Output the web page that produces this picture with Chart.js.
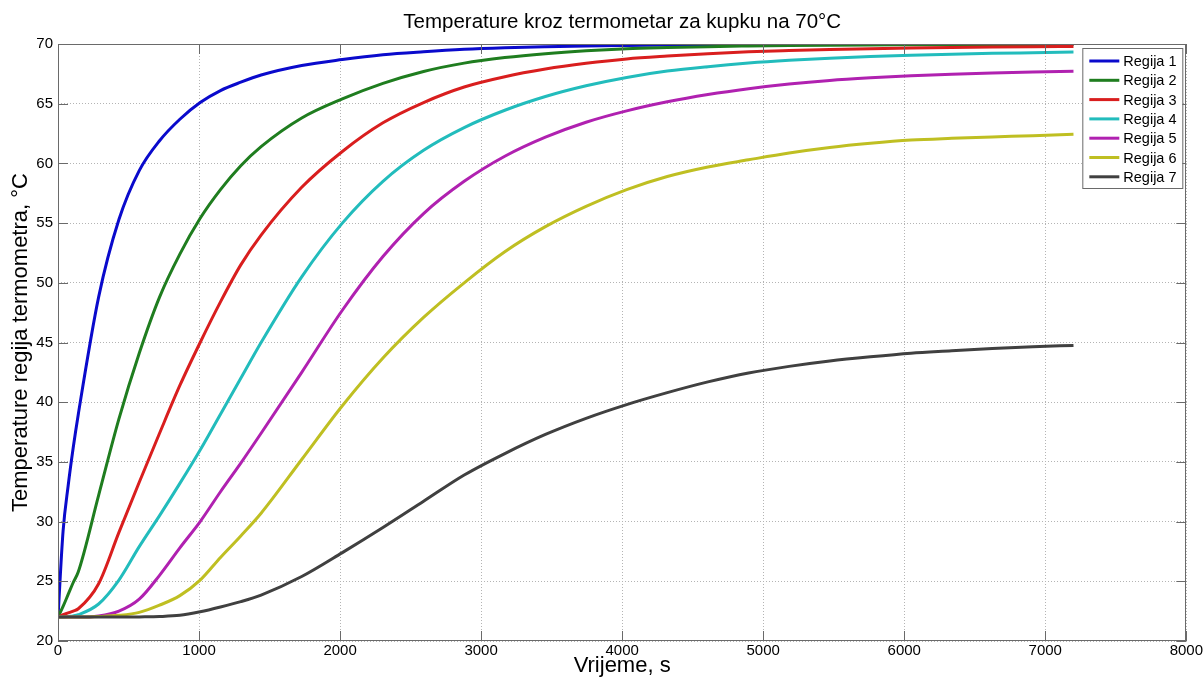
<!DOCTYPE html>
<html>
<head>
<meta charset="utf-8">
<script src="https://cdn.jsdelivr.net/npm/chart.js@4/dist/chart.umd.min.js"></script>
<style>
  body { margin: 0; background: #fff; }
  #wrap { width: 1204px; height: 682px; }
</style>
</head>
<body>
<div id="wrap"><canvas id="tempChart" width="1204" height="682"></canvas></div>
<script>
// vrijeme (s)
let times = [0, 36, 72, 108, 144, 288, 432, 576, 720, 864, 1008, 1152, 1296, 1440, 1728, 2016,
    2304, 2592, 2880, 3168, 3456, 3744, 4032, 4320, 4608, 4896, 5184, 5472, 5760, 6048, 6336,
    6624, 6912, 7200];

let regionNames = ["Regija 1", "Regija 2", "Regija 3", "Regija 4", "Regija 5", "Regija 6", "Regija 7"];

let regija1 = [22, 29.2, 33, 36.2, 39.0, 48.8, 55.3, 59.4, 61.9, 63.7, 65.1, 66.1, 66.8, 67.4, 68.2, 68.7,
    69.1, 69.35, 69.55, 69.68, 69.77, 69.84, 69.88, 69.91, 69.93, 69.95, 69.96, 69.97, 69.97, 69.98, 69.98,
    69.98, 69.99, 69.99];
let regija2 = [22, 22.9, 23.9, 24.9, 25.8, 32.2, 38.6, 44.1, 48.8, 52.4, 55.4, 57.8, 59.8, 61.4, 63.8, 65.4,
    66.7, 67.7, 68.4, 68.86, 69.19, 69.43, 69.6, 69.7, 69.78, 69.83, 69.87, 69.9, 69.92, 69.93, 69.94,
    69.95, 69.95, 69.96];
let regija3 = [22, 22.2, 22.35, 22.5, 22.7, 24.8, 29.1, 33.3, 37.4, 41.4, 45.0, 48.4, 51.5, 54.0, 58.0, 61.0,
    63.4, 65.1, 66.4, 67.26, 67.9, 68.38, 68.75, 68.99, 69.19, 69.35, 69.45, 69.53, 69.6, 69.66, 69.71,
    69.75, 69.78, 69.8];
let regija4 = [22, 22, 22.05, 22.1, 22.2, 23.1, 25.1, 27.9, 30.5, 33.2, 36.0, 39.0, 42.0, 45.0, 50.5, 55.0,
    58.5, 61.1, 63.0, 64.45, 65.6, 66.5, 67.2, 67.73, 68.1, 68.4, 68.63, 68.81, 68.95, 69.06, 69.15,
    69.22, 69.27, 69.32];
let regija5 = [22, 22, 22, 22, 22, 22.1, 22.5, 23.5, 25.5, 27.8, 30.0, 32.5, 34.9, 37.4, 42.5, 47.7,
    52.2, 55.8, 58.5, 60.6, 62.2, 63.45, 64.4, 65.16, 65.77, 66.26, 66.65, 66.95, 67.17, 67.35, 67.47,
    67.57, 67.65, 67.72];
let regija6 = [22, 22, 22, 22, 22, 22.05, 22.15, 22.4, 23.0, 23.8, 25.1, 27.0, 28.8, 30.7, 35.2, 39.7,
    43.7, 47.1, 50.0, 52.6, 54.7, 56.4, 57.8, 58.9, 59.7, 60.3, 60.87, 61.33, 61.68, 61.95, 62.1,
    62.22, 62.32, 62.45];
let regija7 = [22, 22, 22, 22, 22, 22, 22, 22.02, 22.05, 22.15, 22.45, 22.85, 23.3, 23.85, 25.4, 27.4,
    29.5, 31.7, 33.9, 35.7, 37.3, 38.65, 39.8, 40.8, 41.7, 42.45, 43.0, 43.45, 43.8, 44.1, 44.3,
    44.5, 44.65, 44.75];

let lineColors = ["#0a0acc", "#1f7d1f", "#d91e1e", "#22bcbc", "#b021b0", "#bfbf22", "#404040"];

let series = [regija1, regija2, regija3, regija4, regija5, regija6, regija7];
let fontFamily = "'Liberation Sans', Arial, sans-serif";

// okvir osi + unutarnje crtice kao u MATLAB-u
const frameTicks = {
    id: "frameTicks",
    afterDatasetsDraw(chart) {
        const { ctx, chartArea: a, scales } = chart;
        ctx.save();
        ctx.strokeStyle = "#6a6a6a";
        ctx.lineWidth = 1;
        ctx.strokeRect(Math.round(a.left) + 0.5, Math.round(a.top) + 0.5,
            Math.round(a.width) - 1, Math.round(a.height) - 1);
        ctx.beginPath();
        scales.x.ticks.forEach(t => {
            const px = Math.round(scales.x.getPixelForValue(t.value)) + 0.5;
            ctx.moveTo(px, a.bottom); ctx.lineTo(px, a.bottom - 10);
            ctx.moveTo(px, a.top); ctx.lineTo(px, a.top + 10);
        });
        scales.y.ticks.forEach(t => {
            const py = Math.round(scales.y.getPixelForValue(t.value)) + 0.5;
            ctx.moveTo(a.left, py); ctx.lineTo(a.left + 10, py);
            ctx.moveTo(a.right, py); ctx.lineTo(a.right - 10, py);
        });
        ctx.stroke();
        ctx.restore();
    }
};

// legenda unutar grafa, gore desno
const boxLegend = {
    id: "boxLegend",
    afterDraw(chart) {
        const { ctx, chartArea: a } = chart;
        const w = 100, h = 140;
        const x = a.right - w - 4, y = a.top + 4;
        ctx.save();
        ctx.fillStyle = "#fff";
        ctx.fillRect(x, y, w, h);
        ctx.strokeStyle = "#6a6a6a";
        ctx.lineWidth = 1;
        ctx.strokeRect(x + 0.5, y + 0.5, w, h);
        ctx.font = "14.5px " + fontFamily;
        ctx.textBaseline = "middle";
        chart.data.datasets.forEach((ds, i) => {
            const ry = y + 13 + i * 19.3;
            ctx.strokeStyle = ds.borderColor;
            ctx.lineWidth = 3;
            ctx.beginPath();
            ctx.moveTo(x + 7, ry); ctx.lineTo(x + 37, ry);
            ctx.stroke();
            ctx.fillStyle = "#000";
            ctx.fillText(ds.label, x + 41, ry + 1);
        });
        ctx.restore();
    }
};

new Chart("tempChart", {
    type: "line",
    data: {
        datasets: series.map((vals, i) => ({
            label: regionNames[i],
            data: times.map((t, k) => ({ x: t, y: vals[k] })),
            borderColor: lineColors[i],
            backgroundColor: lineColors[i],
            borderWidth: 3,
            pointRadius: 0,
            cubicInterpolationMode: "monotone",
            order: series.length - i
        }))
    },
    options: {
        responsive: false,
        animation: false,
        layout: { padding: { left: 0, right: 17, top: 0, bottom: 0 } },
        plugins: {
            legend: { display: false },
            tooltip: { enabled: false },
            title: {
                display: true,
                fullSize: false,
                text: "Temperature kroz termometar za kupku na 70°C",
                color: "#000",
                font: { family: fontFamily, size: 20.5, weight: "normal", lineHeight: 1.2 },
                padding: { top: 10, bottom: 9.4 }
            }
        },
        scales: {
            x: {
                type: "linear",
                min: 0,
                max: 8000,
                ticks: { stepSize: 1000, color: "#000", padding: 1, maxRotation: 0,
                    font: { family: fontFamily, size: 15 },
                    callback: v => String(v) },
                grid: { color: "#b4b4b4", borderDash: [1, 2], drawTicks: false },
                border: { display: false, dash: [1, 2] },
                title: { display: true, text: "Vrijeme, s", color: "#000",
                    font: { family: fontFamily, size: 22 }, padding: { top: 0, bottom: 3 } },
                afterFit(scale) { scale.height = 41; }
            },
            y: {
                min: 20,
                max: 70,
                ticks: { stepSize: 5, color: "#000", padding: 5,
                    font: { family: fontFamily, size: 15 } },
                grid: { color: "#b4b4b4", borderDash: [1, 2], drawTicks: false },
                border: { display: false, dash: [1, 2] },
                title: { display: true, text: "Temperature regija termometra, °C", color: "#000",
                    font: { family: fontFamily, size: 22 }, padding: { top: 8, bottom: 0 } },
                afterFit(scale) { scale.width = 58; }
            }
        }
    },
    plugins: [frameTicks, boxLegend]
});
</script>
</body>
</html>
